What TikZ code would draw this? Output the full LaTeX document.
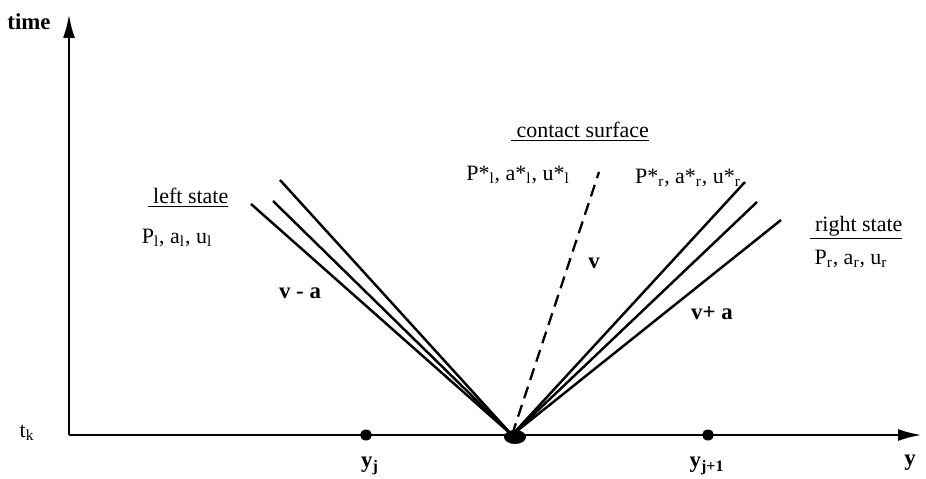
\documentclass[tikz,border=0pt]{standalone}
\usepackage{fontspec}
\setmainfont{Liberation Serif}
\usetikzlibrary{arrows.meta,positioning}

\begin{document}
\begin{tikzpicture}[x=0.02cm,y=-0.02cm,
  axis/.style={line width=1.6pt,-{Latex[length=0.48cm,width=0.24cm]}},
  wave/.style={line width=1.4pt},
  contact/.style={line width=1.3pt,dash pattern=on 7pt off 4pt},
  lbl/.style={font=\fontsize{12.5}{14}\selectfont,inner sep=1pt},
  blbl/.style={font=\fontsize{13}{15}\selectfont\bfseries,inner sep=1pt}
]
\useasboundingbox (0,0) rectangle (926,479);
% axes
\coordinate (corner) at (69,435);
\coordinate (ttop) at (69,14);
\coordinate (yend) at (922,435);
\draw[axis] (corner) -- (ttop);
\draw[axis] (corner) -- (yend);
\node[blbl] (time) at (29,22) {time};
\node[lbl] (tk) at (27,433) {t\textsubscript{k}};
\node[blbl] (yaxis) at (910,463) {y};
% grid points
\coordinate (o) at (512,435);
\fill (366,435) circle (6 and 5.5);
\fill (708,435) circle (6 and 5.5);
\fill (515,437) ellipse (11 and 7);
\node[blbl] (yj) at (370,466) {y\textsubscript{j}};
\node[blbl] (yj1) at (707,466) {y\textsubscript{j+1}};
% left fan  v - a
\coordinate (l1) at (280,180);
\coordinate (l2) at (273,201);
\coordinate (l3) at (251,204);
\foreach \e in {l1,l2,l3}
  \draw[wave] (o) -- (\e);
% right fan  v + a
\coordinate (r1) at (745,182);
\coordinate (r2) at (757,202);
\coordinate (r3) at (781,220);
\foreach \e in {r1,r2,r3}
  \draw[wave] (o) -- (\e);
% contact surface
\coordinate (c) at (599,172);
\draw[contact] (o) -- (c);
% labels
\node[lbl] (cs) at (580,132) {\underline{\ contact surface}};
\node[lbl] (ls) at (188,198) {\underline{\ left state}};
\node[lbl] (lv) at (177,238) {P\textsubscript{l}, a\textsubscript{l}, u\textsubscript{l}};
\node[lbl] (lstar) at (518,175) {P*\textsubscript{l}, a*\textsubscript{l}, u*\textsubscript{l}};
\node[lbl] (rstar) at (688,178) {P*\textsubscript{r}, a*\textsubscript{r}, u*\textsubscript{r}};
\node[lbl] (rs) at (856,228) {\underline{\ right state}};
\node[lbl] (rv) at (851,259) {P\textsubscript{r}, a\textsubscript{r}, u\textsubscript{r}};
\node[blbl] (vc) at (594,263) {v};
\node[blbl] (vma) at (300,293) {v - a};
\node[blbl] (vpa) at (712,313) {v+ a};
\end{tikzpicture}
\end{document}
